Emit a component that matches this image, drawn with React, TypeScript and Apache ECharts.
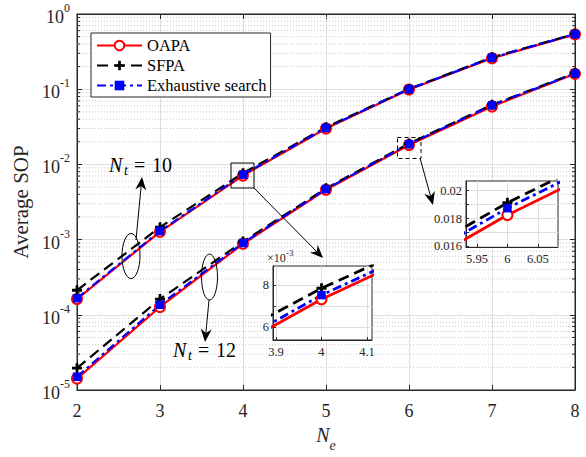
import React, { useEffect, useRef } from 'react';
import * as echarts from 'echarts';

// ---------------- data ----------------
const NE = [2, 3, 4, 5, 6, 7, 8];
// N_t = 10
const OAPA_10 = [1.62e-4, 1.27e-3, 7.1e-3, 3.0e-2, 0.099, 0.258, 0.535];
const SFPA_10 = [2.12e-4, 1.46e-3, 7.65e-3, 3.12e-2, 0.101, 0.265, 0.545];
const ES_10 = [1.66e-4, 1.3e-3, 7.3e-3, 3.05e-2, 0.1, 0.262, 0.54];
// N_t = 12
const OAPA_12 = [1.42e-5, 1.27e-4, 8.8e-4, 4.6e-3, 0.0181, 0.059, 0.16];
const SFPA_12 = [1.95e-5, 1.62e-4, 9.4e-4, 4.8e-3, 0.019, 0.062, 0.164];
const ES_12 = [1.5e-5, 1.36e-4, 9.0e-4, 4.7e-3, 0.0186, 0.061, 0.162];

const LEGEND = ['OAPA', 'SFPA', 'Exhaustive search'];
const DECADES = [1e-5, 1e-4, 1e-3, 1e-2, 1e-1];
const MINOR_MULTS = [2, 3, 4, 5, 6, 7, 8, 9];
const INSET1_XTICKS = [3.9, 4, 4.1];
const INSET1_YLABELS = [0.006, 0.008];
const INSET1_YGRID = [0.006, 0.007, 0.008];
const INSET2_XTICKS = [5.95, 6, 6.05];
const INSET2_YLABELS = [0.016, 0.018, 0.02];
const INSET2_YGRID = [0.016, 0.017, 0.018, 0.019, 0.02];

// ---------------- styles ----------------
const FONT = '"Liberation Serif", "Times New Roman", serif';
const AX = '#262626';
const GRIDC = '#dedede';
const PLUS = 'path://M3.6,0H6.4V3.6H10V6.4H6.4V10H3.6V6.4H0V3.6H3.6Z';

const STYLES: any[] = [
  { color: '#ff0000', symbol: 'emptyCircle', size: 10, dash: 'solid' },
  { color: '#000000', symbol: PLUS, size: 10, dash: [11, 6] },
  { color: '#0000ff', symbol: 'rect', size: 8.5, dash: [9, 4, 3, 4] },
];

function lines(group: number[][], xi: number, yi: number, z: number, width: number) {
  return STYLES.map((s, k) => ({
    type: 'line',
    name: LEGEND[k],
    xAxisIndex: xi,
    yAxisIndex: yi,
    z,
    data: NE.map((x, i) => [x, group[k][i]]),
    symbol: s.symbol,
    symbolSize: s.size,
    showSymbol: true,
    clip: true,
    lineStyle: { color: s.color, width, type: s.dash },
    itemStyle: { color: s.color, borderColor: s.color, borderWidth: s.symbol === 'emptyCircle' ? 2 : 0 },
    emphasis: { disabled: true },
  }));
}

function arrow(x1: number, y1: number, x2: number, y2: number) {
  const L = Math.hypot(x2 - x1, y2 - y1);
  const ux = (x2 - x1) / L, uy = (y2 - y1) / L;
  const nx = -uy, ny = ux;
  const len = 13, hw = 5.5;
  const bx = x2 - ux * len, by = y2 - uy * len;
  const mx = x2 - ux * len * 0.7, my = y2 - uy * len * 0.7;
  return [
    { type: 'line', z: 30, shape: { x1, y1, x2: mx, y2: my }, style: { stroke: '#000', lineWidth: 1 } },
    {
      type: 'polygon', z: 30,
      shape: { points: [[x2, y2], [bx + nx * hw, by + ny * hw], [mx, my], [bx - nx * hw, by - ny * hw]] },
      style: { fill: '#000' },
    },
  ];
}

function txt(text: string, x: number, y: number, size: number, italic = false, color = '#000') {
  return {
    type: 'text', z: 30,
    style: {
      text, x, y, fill: color,
      fontFamily: FONT, fontSize: size, fontStyle: italic ? 'italic' : 'normal',
      align: 'left', verticalAlign: 'middle', textAlign: 'left', textVerticalAlign: 'middle',
    },
  };
}

function ntLabel(x: number, cy: number, num: string) {
  return [
    txt('N', x, cy, 20, true),
    txt('t', x + 15, cy + 5, 14, true),
    txt('=', x + 25, cy, 20),
    txt(num, x + 43, cy, 20),
  ];
}

function buildOption(): any {
  const minorVals: number[] = [];
  DECADES.forEach((d) => MINOR_MULTS.forEach((m) => minorVals.push(d * m)));

  const tickLabel = (v: number) => `{b|10}{s|${Math.round(Math.log10(v))}}`;

  const insetX = (grid: number, min: number, max: number, ticks: number[]) => ({
    type: 'value', gridIndex: grid, min, max, z: 10,
    axisLine: { show: true, lineStyle: { color: AX, width: 1 } },
    axisTick: { show: true, inside: true, length: 3, customValues: ticks, lineStyle: { color: AX } },
    axisLabel: { customValues: ticks, margin: 5, fontFamily: FONT, fontSize: 12.5, color: AX, formatter: (v: number) => String(+v.toFixed(3)) },
    splitLine: { show: true, lineStyle: { color: GRIDC, width: 1 } },
  });
  const insetYLabels = (grid: number, min: number, max: number, labels: number[], grid_: number[], fmt: (v: number) => string) => ({
    type: 'value', gridIndex: grid, min, max, position: 'left', z: 10,
    axisLine: { show: true, lineStyle: { color: AX, width: 1 } },
    axisTick: { show: true, inside: true, length: 3, customValues: grid_, lineStyle: { color: AX } },
    axisLabel: { customValues: labels, margin: 4, fontFamily: FONT, fontSize: 12.5, color: AX, formatter: fmt },
    splitLine: { show: true, lineStyle: { color: GRIDC, width: 1 } },
  });
  const insetYLog = (grid: number, min: number, max: number) => ({
    type: 'log', gridIndex: grid, min, max, show: false, position: 'left',
    splitLine: { show: false },
  });

  const graphic: any[] = [
    { type: 'ellipse', z: 30, shape: { cx: 131, cy: 256, rx: 9, ry: 22.5 }, style: { fill: 'none', stroke: '#000', lineWidth: 1 } },
    { type: 'ellipse', z: 30, shape: { cx: 209.5, cy: 277, rx: 8, ry: 23 }, style: { fill: 'none', stroke: '#000', lineWidth: 1 } },
    { type: 'rect', z: 30, shape: { x: 231, y: 163, width: 23, height: 25 }, style: { fill: 'none', stroke: '#000', lineWidth: 1 } },
    { type: 'rect', z: 30, shape: { x: 397.5, y: 137.5, width: 23.5, height: 21 }, style: { fill: 'none', stroke: '#000', lineWidth: 1, lineDash: [4, 3] } },
    ...arrow(136, 240, 142, 177),
    ...arrow(209, 300, 205, 342),
    ...arrow(254, 188, 323, 258),
    ...arrow(420, 158, 433, 205),
    ...ntLabel(109, 165, '10'),
    ...ntLabel(173, 350, '12'),
    txt('\u00d710', 267, 258, 12, false, AX),
    txt('-3', 286, 253, 9, false, AX),
  ];

  return {
    animation: false,
    backgroundColor: '#fff',
    textStyle: { fontFamily: FONT },
    legend: {
      data: LEGEND,
      orient: 'vertical',
      left: 91,
      top: 33,
      itemWidth: 45,
      itemHeight: 12,
      itemGap: 3,
      padding: [4, 4, 3, 5],
      backgroundColor: '#fff',
      borderColor: AX,
      borderWidth: 1,
      borderRadius: 0,
      selectedMode: false,
      textStyle: { fontFamily: FONT, fontSize: 16.5, color: '#000', lineHeight: 16 },
      z: 20,
    },
    grid: [
      { left: 77, top: 14, right: 11, bottom: 58, show: true, borderColor: AX, borderWidth: 1, backgroundColor: 'transparent', containLabel: false },
      { left: 273, top: 266, width: 99, height: 74, show: true, borderColor: AX, borderWidth: 1, backgroundColor: '#fff', z: 9 },
      { left: 466, top: 181, width: 92, height: 66, show: true, borderColor: AX, borderWidth: 1, backgroundColor: '#fff', z: 9 },
    ],
    xAxis: [
      {
        type: 'value', gridIndex: 0, min: 2, max: 8, interval: 1,
        name: '{n|N}{e|e}', nameLocation: 'middle', nameGap: 35,
        nameTextStyle: {
          rich: {
            n: { fontFamily: FONT, fontSize: 20, fontStyle: 'italic', color: AX, verticalAlign: 'top' },
            e: { fontFamily: FONT, fontSize: 14, fontStyle: 'italic', color: AX, verticalAlign: 'bottom', padding: [13, 0, 0, 0] },
          },
        },
        axisLine: { show: true, lineStyle: { color: AX, width: 1 } },
        axisTick: { show: true, inside: true, length: 5, lineStyle: { color: AX } },
        axisLabel: { margin: 12, fontFamily: FONT, fontSize: 18, color: AX },
        splitLine: { show: true, lineStyle: { color: GRIDC, width: 1 } },
      },
      {
        type: 'value', gridIndex: 0, min: 2, max: 8, interval: 1, position: 'top',
        axisLine: { show: true, lineStyle: { color: AX, width: 1 } },
        axisTick: { show: true, inside: true, length: 5, lineStyle: { color: AX } },
        axisLabel: { show: false },
        splitLine: { show: false },
      },
      insetX(1, 3.8934, 4.111, INSET1_XTICKS),
      insetX(2, 5.932, 6.083, INSET2_XTICKS),
    ],
    yAxis: [
      {
        type: 'log', gridIndex: 0, min: 1e-5, max: 1, position: 'left',
        name: 'Average SOP', nameLocation: 'middle', nameGap: 42,
        nameTextStyle: { fontFamily: FONT, fontSize: 21, color: AX },
        axisLine: { show: true, lineStyle: { color: AX, width: 1 } },
        axisTick: { show: true, inside: true, length: 5, lineStyle: { color: AX } },
        axisLabel: {
          margin: 7, formatter: tickLabel,
          rich: {
            b: { fontFamily: FONT, fontSize: 18, color: AX, verticalAlign: 'bottom' },
            s: { fontFamily: FONT, fontSize: 12, color: AX, verticalAlign: 'top', padding: [0, 0, 12, 0] },
          },
        },
        splitLine: { show: true, lineStyle: { color: GRIDC, width: 1 } },
      },
      {
        type: 'log', gridIndex: 0, min: 1e-5, max: 1, position: 'right',
        axisLine: { show: true, lineStyle: { color: AX, width: 1 } },
        axisTick: { show: true, inside: true, length: 5, lineStyle: { color: AX } },
        axisLabel: { show: false },
        splitLine: { show: false },
      },
      insetYLog(1, 0.00538, 0.0089),
      insetYLabels(1, 0.00538, 0.0089, INSET1_YLABELS, INSET1_YGRID, (v: number) => String(Math.round(v * 1000))),
      insetYLog(2, 0.01596, 0.0207),
      insetYLabels(2, 0.01596, 0.0207, INSET2_YLABELS, INSET2_YGRID, (v: number) => String(+v.toFixed(3))),
    ],
    series: [
      {
        type: 'custom', xAxisIndex: 0, yAxisIndex: 0, z: 1, silent: true,
        data: minorVals.map((v) => [2, v]),
        encode: { x: 0, y: 1 },
        renderItem: (params: any, api: any) => {
          const v = api.value(1);
          const p = api.coord([2, v]);
          const cs = params.coordSys;
          return {
            type: 'group',
            children: [
              { type: 'line', shape: { x1: cs.x, y1: p[1], x2: cs.x + cs.width, y2: p[1] }, style: { stroke: '#c8c8c8', lineWidth: 1, lineDash: [1, 2] } },
              { type: 'line', shape: { x1: cs.x, y1: p[1], x2: cs.x + 3, y2: p[1] }, style: { stroke: AX, lineWidth: 1 } },
              { type: 'line', shape: { x1: cs.x + cs.width - 3, y1: p[1], x2: cs.x + cs.width, y2: p[1] }, style: { stroke: AX, lineWidth: 1 } },
            ],
          };
        },
      },
      ...lines([OAPA_10, SFPA_10, ES_10], 0, 0, 2, 2.2),
      ...lines([OAPA_12, SFPA_12, ES_12], 0, 0, 2, 2.2),
      ...lines([OAPA_10, SFPA_10, ES_10], 2, 2, 11, 2.8),
      ...lines([OAPA_12, SFPA_12, ES_12], 3, 4, 11, 2.8),
    ],
    graphic,
  };
}

export default function App() {
  const ref = useRef<HTMLDivElement>(null);
  useEffect(() => {
    document.body.style.margin = '0';
    if (!ref.current) return;
    const chart = echarts.init(ref.current, undefined, { renderer: 'svg' });
    chart.setOption(buildOption());
    return () => chart.dispose();
  }, []);
  return <div ref={ref} style={{ position: 'fixed', left: 0, top: 0, width: 586, height: 457 }} />;
}
